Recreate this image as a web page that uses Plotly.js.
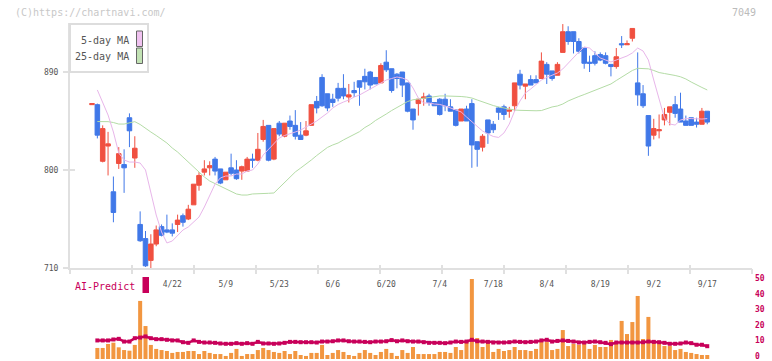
<!DOCTYPE html>
<html><head><meta charset="utf-8">
<script src="https://cdn.plot.ly/plotly-3.0.1.min.js"></script>
<style>html,body{margin:0;padding:0;background:#fff;}#chart{width:772px;height:361px;}</style>
</head><body><div id="chart"></div>
<script>
// ---------- DATA ----------
const dates = ['4/1','4/2','4/3','4/4','4/7','4/8','4/9','4/10','4/11','4/14',
'4/15','4/16','4/17','4/18','4/21','4/22','4/23','4/24','4/25','4/28',
'4/30','5/1','5/2','5/7','5/8','5/9','5/12','5/13','5/14','5/15',
'5/16','5/19','5/20','5/21','5/22','5/23','5/26','5/27','5/28','5/29',
'5/30','6/2','6/3','6/4','6/5','6/6','6/9','6/10','6/11','6/12',
'6/13','6/16','6/17','6/18','6/19','6/20','6/23','6/24','6/25','6/26',
'6/27','6/30','7/1','7/2','7/3','7/4','7/7','7/8','7/9','7/10',
'7/11','7/14','7/15','7/16','7/17','7/18','7/22','7/23','7/24','7/25',
'7/28','7/29','7/30','7/31','8/1','8/4','8/5','8/6','8/7','8/8',
'8/12','8/13','8/14','8/15','8/18','8/19','8/20','8/21','8/22','8/25',
'8/26','8/27','8/28','8/29','9/1','9/2','9/3','9/4','9/5','9/8',
'9/9','9/10','9/11','9/12','9/16','9/17'];

const open = [860,860,808,822,780,806,805,848,811,750,
737,717,732,748,745,745,750,758,755,768,
786,798,802,810,801,791,802,800,799,799,
810,809,828,841,810,843,831,845,841,832,
832,841,863,885,870,865,875,875,867,873,
882,886,890,885,880,899,893,888,890,880,
856,861,866,868,862,865,865,858,855,845,
856,861,826,821,846,842,857,858,854,859,
888,877,883,883,884,897,891,887,908,927,
927,918,912,899,905,906,905,897,895,916,
915,921,880,870,850,832,836,846,853,860,
856,845,848,844,842,854];
const high = [861,861,841,835,794,821,819,852,831,762,
744,741,749,750,759,751,759,760,768,787,
798,809,808,812,801,798,815,809,804,812,
815,834,846,841,838,845,843,850,855,844,
845,860,868,888,870,870,880,888,879,881,
882,893,891,885,898,910,893,889,890,880,
856,865,871,870,862,866,870,865,856,856,
859,865,826,833,846,845,858,860,858,880,
892,879,887,887,908,899,891,899,934,932,
927,921,912,905,909,908,908,897,912,923,
919,930,908,878,850,847,851,857,858,868,
871,850,848,848,857,854];
const low = [860,829,807,795,752,801,779,821,802,734,
711,710,730,739,742,739,743,748,754,768,
781,795,795,795,787,791,795,791,791,799,
802,808,826,808,809,831,830,837,828,828,
831,841,852,858,854,858,863,865,862,867,
859,874,874,879,880,890,871,875,867,853,
837,850,859,859,859,850,854,854,840,845,
845,802,803,817,824,834,846,846,848,854,
874,865,878,880,884,879,882,887,908,915,
907,907,893,890,896,900,897,886,893,912,
915,918,859,857,813,828,829,841,841,848,
844,841,841,839,842,842];
const close = [861,832,838,824,761,815,802,836,820,735,
712,732,745,740,743,742,754,752,764,787,
795,801,804,799,788,798,797,792,803,810,
809,819,840,809,838,833,843,840,831,828,
836,860,857,859,857,862,866,868,869,871,
876,881,878,879,896,892,873,884,878,854,
846,865,867,862,859,851,859,854,841,856,
845,823,819,831,834,837,853,851,855,880,
878,879,878,880,900,888,884,897,927,918,
918,909,898,898,898,901,898,895,904,915,
916,930,869,859,822,838,837,851,858,852,
844,841,841,842,854,844];

const ma5 = [null,873.5,861.5,850.5,834.9,815.6,809.2,807.3,807.3,806.4,
800,778.9,758.7,743.1,733,734.8,740.3,744.9,747.7,752.2,
756.8,766,776.1,787.1,792.7,794.5,794.5,796.3,796.3,799.1,
800,805.5,813.8,819.3,824.8,829.4,831.7,833,834.9,836.7,
839.5,842.2,845,848.7,852.3,856.9,860.2,862.4,864.3,867,
868.9,871.6,874.4,877.1,879.9,882.6,884,885.4,884.5,882.6,
875.3,866.1,861.5,861.5,860.6,860.2,858.8,856.9,855.6,853.3,
848.7,844.1,839.5,835.8,833.1,830.8,829.9,834,842.2,854.2,
863.4,870.7,874.4,878.1,882.6,885,887.2,889.1,892.8,898.3,
902.9,908.4,913,912,907.5,902.9,901,899.2,901,902.9,
904.7,907.5,912,909.3,901,882.6,864.3,847.8,842.2,841.3,
845.9,847.2,847.2,846.8,846.8,847.2];
const ma25 = [null,844.5,844.5,844.4,843.6,842.2,842.2,843.6,844.4,841.8,
838.1,834.9,831.7,828.5,824.8,820.2,816.5,811.9,807.3,802.8,
797.7,793.6,789.9,787.6,784.8,783,780.7,778,777,777,
778,778.4,778.6,778.6,778.9,783.9,789,793.6,798.2,801.8,
805.1,809.2,813.3,817.4,820.7,823,824.8,827.6,830.3,832.6,
835.2,839,841.8,845.5,848.2,851.4,854.6,857.4,860.6,862.9,
864.5,865.2,865.7,866.6,867.5,868,868,868,868,867.5,
867,866.1,864.3,862.4,860.6,859.2,857.9,856.9,855.6,855.1,
854.8,854.5,854.5,854.4,854.6,856.5,857.9,858.8,860.6,863.4,
865.7,867.5,869.3,871.2,873.5,875,876.7,879,882.2,885.4,
888.6,891.4,893.4,893.4,892.9,891.4,889.5,888.6,888,886.8,
885.6,883.6,880.8,878.1,875.8,873.5];

const aiBars = [null,6.9,6.9,9.4,10.2,7.3,5.6,5.2,8.8,36.3,
20.6,8.8,6.3,5.6,5,3.8,4.4,4.4,5,5,
3.1,5,3.8,3.1,3.1,1.9,3.8,6.3,1.9,3.1,
3.1,5.6,6.9,5.6,4.4,3.8,5,3.1,5,2.5,
1.9,3.8,3.8,8.8,2.5,3.8,5.6,4.4,2.5,1.9,
3.8,5.6,3.8,2.5,4.4,6.3,3.8,1.9,5.6,3.8,
7.5,3.1,3.1,3.1,3.1,4.4,4.4,3.8,7.5,5.6,
11.3,50,13.1,7.5,10,4.4,6.3,5,5.6,7.5,
5.6,5.6,5,6.3,10.6,10.6,5.6,6.3,18.1,8.1,
9.4,8.8,10,6.3,8.8,7.5,7.5,11.9,9.4,23.8,
15.6,23.1,39.4,12.5,26.3,11.9,9.4,8.1,8.1,5.6,
6.3,4.4,3.8,3.1,2.5,2.5];
const aiLine = [null,11.6,11.6,11.6,12.2,12.6,10.9,10.9,13,13.4,
14.1,13,12.4,12.4,12,11.6,11.6,10.5,10.1,11.6,
10.7,10.3,10.3,10.1,9.7,9.5,9.5,9.9,9.5,9.9,
9.5,10.7,9.7,9.7,9.5,9.7,10.1,10.7,10.7,10.5,
10.5,10.5,10.3,10.9,10.9,11.1,11.6,11.6,11.1,10.9,
10.9,10.7,10.5,10.9,10.9,11.1,11.8,11.1,11.6,11.1,
10.9,10.9,10.5,10.1,10.1,10.1,9.9,10.3,10.9,10.7,
10.9,12,11.1,10.9,10.7,10.3,10.3,10.3,10.5,10.9,
10.7,10.5,10.7,10.9,11.6,12,10.9,11.3,11.6,11.3,
10.9,10.3,10.3,10.7,10.9,10.5,10.1,9.3,10.3,10.3,
10.3,10.3,10.3,10.5,10.9,10.7,10.5,10.1,9.5,9.5,
9.7,10.3,9.9,8.9,8.9,8.0];

const tickDates = ['4/22','5/9','5/23','6/6','6/20','7/4','7/18','8/4','8/19','9/2','9/17'];
const priceTicks = [710,800,890];
const aiTicks = [0,10,20,30,40,50];

// ---------- LAYOUT GEOMETRY ----------
const W = 772, H = 361;
const px = x => x / W, py = y => (H - y) / H;
const PLOT_L = 70, PLOT_R = 752, MAIN_TOP = 23, MAIN_BOT = 268, SUB_TOP = 270, SUB_BOT = 359;
const FIRST_X = 92, PITCH = 5.35, SUB_SCALE = 1.6;
// where the lower-panel scale labels sit (pixel rows of "0" and "50")
const LBL_ZERO_Y = 356.2, LBL_TOP_Y = 278.3;
const xRange = [(PLOT_L - FIRST_X) / PITCH, (PLOT_R - FIRST_X) / PITCH];
const yRange = [710, 710 + (MAIN_BOT - MAIN_TOP) * 90 / 98];
const y2Range = [0, (SUB_BOT - SUB_TOP) / SUB_SCALE];
const lblScale = (LBL_ZERO_Y - LBL_TOP_Y) / 50;
const y4Range = [-(SUB_BOT - LBL_ZERO_Y) / lblScale, (LBL_ZERO_Y - SUB_TOP) / lblScale];
const xDom = [px(PLOT_L), px(PLOT_R)];
const tickStep = (xRange[1] - xRange[0]) / 11;

const UP = '#f05040', DOWN = '#4078e8', MAGENTA = '#c8005a', ORANGE = '#f29640';
const MONO = 'DejaVu Sans Mono, Liberation Mono, monospace';
const AXC = '#e0e0e0';

const traces = [
  {type:'candlestick', x:dates, open:open, high:high, low:low, close:close,
   xaxis:'x', yaxis:'y', whiskerwidth:0, hoverinfo:'skip',
   increasing:{line:{color:UP,width:1}, fillcolor:UP},
   decreasing:{line:{color:DOWN,width:1}, fillcolor:DOWN}},
  {type:'scatter', mode:'lines', x:dates, y:ma25, xaxis:'x', yaxis:'y',
   line:{color:'#b4dca6', width:1}, hoverinfo:'skip'},
  {type:'scatter', mode:'lines', x:dates, y:ma5, xaxis:'x', yaxis:'y',
   line:{color:'#e8b6ea', width:1}, hoverinfo:'skip'},
  {type:'bar', x:dates, y:aiBars, xaxis:'x2', yaxis:'y2',
   marker:{color:ORANGE, line:{width:0}}, hoverinfo:'skip'},
  {type:'scatter', mode:'lines+markers', x:dates, y:aiLine, xaxis:'x2', yaxis:'y2',
   line:{color:MAGENTA, width:2.5}, marker:{color:MAGENTA, size:4, symbol:'square'}, hoverinfo:'skip'},
  // empty traces that only register the overlay tick axes
  {type:'scatter', x:[], y:[], xaxis:'x3', yaxis:'y', hoverinfo:'skip'},
  {type:'scatter', x:[], y:[], xaxis:'x4', yaxis:'y', hoverinfo:'skip'},
  {type:'scatter', x:[], y:[], xaxis:'x', yaxis:'y3', hoverinfo:'skip'},
  {type:'scatter', x:[], y:[], xaxis:'x2', yaxis:'y4', hoverinfo:'skip'}
];

const tickAxis = (dir, len) => ({
  type:'linear', overlaying:'x', anchor:'y', domain:xDom, range:xRange,
  tickmode:'linear', tick0:xRange[0] + 1e-6, dtick:tickStep,
  ticks:dir, ticklen:len, tickwidth:2, tickcolor:AXC,
  showticklabels:false, showline:false, showgrid:false, zeroline:false, fixedrange:true
});

const layout = {
  width:W, height:H, margin:{l:0,r:0,t:0,b:0,pad:0},
  paper_bgcolor:'#ffffff', plot_bgcolor:'rgba(0,0,0,0)',
  showlegend:false, boxgap:0.15, boxgroupgap:0, bargap:0.25,
  font:{family:MONO, size:10, color:'#555'},
  xaxis:{type:'category', domain:xDom, anchor:'y', range:xRange,
    rangeslider:{visible:false}, showgrid:false, zeroline:false,
    showline:true, linecolor:AXC, linewidth:2, ticks:'',
    tickmode:'array', tickvals:tickDates, ticktext:tickDates,
    tickfont:{family:MONO, size:8, color:'#555'}, ticklabelstandoff:7, fixedrange:true},
  xaxis2:{type:'category', domain:xDom, anchor:'y2', range:xRange, visible:false,
    rangeslider:{visible:false}, fixedrange:true},
  xaxis3:tickAxis('outside', 5),
  xaxis4:tickAxis('inside', 3),
  yaxis:{domain:[py(MAIN_BOT), py(MAIN_TOP)], anchor:'x', range:yRange,
    showgrid:false, zeroline:false, showline:true, linecolor:AXC, linewidth:2,
    ticks:'outside', ticklen:5, tickwidth:2, tickcolor:AXC,
    tickmode:'array', tickvals:priceTicks,
    tickfont:{family:MONO, size:8, color:'#555'}, ticklabelstandoff:3, fixedrange:true},
  yaxis3:{overlaying:'y', anchor:'x', range:yRange, domain:[py(MAIN_BOT), py(MAIN_TOP)],
    showgrid:false, zeroline:false, showline:false,
    ticks:'inside', ticklen:5, tickwidth:2, tickcolor:AXC,
    tickmode:'array', tickvals:priceTicks, showticklabels:false, fixedrange:true},
  yaxis2:{domain:[py(SUB_BOT), py(SUB_TOP)], anchor:'x2', side:'right', range:y2Range,
    showgrid:false, zeroline:false, showline:false, ticks:'', showticklabels:false, fixedrange:true},
  // label-only axis for the lower panel scale
  yaxis4:{overlaying:'y2', anchor:'x2', side:'right', range:y4Range,
    showgrid:false, zeroline:false, showline:false, ticks:'',
    tickmode:'array', tickvals:aiTicks, ticklabeloverflow:'allow',
    tickfont:{family:MONO, size:8, color:MAGENTA, weight:'bold'}, ticklabelstandoff:2, fixedrange:true},
  shapes:[
    {type:'rect', xref:'paper', yref:'paper', x0:px(70), x1:px(148), y0:py(72), y1:py(24),
     line:{color:'#dddddd', width:2}, fillcolor:'#ffffff', layer:'above'},
    {type:'rect', xref:'paper', yref:'paper', x0:px(136.5), x1:px(142.5), y0:py(46.5), y1:py(31),
     line:{color:'#666', width:1}, fillcolor:'#f0c2f0', layer:'above'},
    {type:'rect', xref:'paper', yref:'paper', x0:px(136.5), x1:px(142.5), y0:py(63.5), y1:py(48),
     line:{color:'#666', width:1}, fillcolor:'#c2e2b4', layer:'above'},
    {type:'rect', xref:'paper', yref:'paper', x0:px(142.5), x1:px(149), y0:py(293), y1:py(277),
     line:{width:0}, fillcolor:MAGENTA, layer:'above'}
  ],
  annotations:[
    {text:'(C)https://chartnavi.com/', xref:'paper', yref:'paper', x:px(13), y:py(12),
     xanchor:'left', yanchor:'middle', showarrow:false, font:{family:MONO, size:10, color:'#c8c8c8'}},
    {text:'7049', xref:'paper', yref:'paper', x:px(758), y:py(12),
     xanchor:'right', yanchor:'middle', showarrow:false, font:{family:MONO, size:10, color:'#bbbbbb'}},
    {text:'5-day MA', xref:'paper', yref:'paper', x:px(131), y:py(40),
     xanchor:'right', yanchor:'middle', showarrow:false, font:{family:MONO, size:10, color:'#555'}},
    {text:'25-day MA', xref:'paper', yref:'paper', x:px(131), y:py(56.5),
     xanchor:'right', yanchor:'middle', showarrow:false, font:{family:MONO, size:10, color:'#555'}},
    {text:'AI-Predict', xref:'paper', yref:'paper', x:px(73), y:py(286),
     xanchor:'left', yanchor:'middle', showarrow:false, font:{family:MONO, size:10, color:MAGENTA}}
  ]
};

Plotly.newPlot('chart', traces, layout, {staticPlot:true, displayModeBar:false});
</script></body></html>
